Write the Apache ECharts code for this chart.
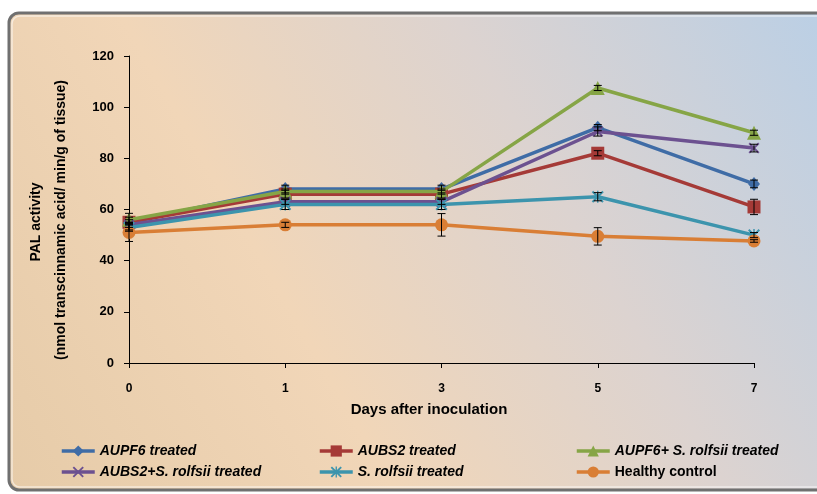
<!DOCTYPE html>
<html>
<head>
<meta charset="utf-8">
<script src="https://cdn.jsdelivr.net/npm/echarts@6/dist/echarts.min.js"></script>
<style>html,body{margin:0;padding:0;background:#fff;}#c{width:817px;height:494px;}</style>
</head>
<body>
<div id="c"></div>
<script>
const days = ['0', '1', '3', '5', '7'];
const yTicks = [0, 20, 40, 60, 80, 100, 120];

const seriesNames = ['AUPF6 treated', 'AUBS2 treated', 'AUPF6+ S. rolfsii treated',
  'AUBS2+S. rolfsii treated', 'S. rolfsii treated', 'Healthy control'];

const aupf6 = [55, 68, 68, 92, 70];
const aubs2 = [55, 66, 66, 82, 61];
const aupf6Sr = [56, 67, 67, 107.5, 90];
const aubs2Sr = [54, 63, 63, 90.5, 84];
const sRolfsii = [53, 62, 62, 65, 50];
const healthy = [51, 54, 54, 49.5, 47.7];

const errAupf6 = [1, 1.5, 1.5, 1.2, 1.5];
const errAubs2 = [3.5, 1.5, 1.5, 1, 3];
const errAupf6Sr = [1, 1, 1, 1, 1];
const errAubs2Sr = [1, 1, 1, 1.8, 1.5];
const errSRolfsii = [1, 2, 2, 1.6, 1];
const errHealthy = [3.5, 1, 4.4, 3.4, 0.5];

const colors = ['#3F6CA6', '#A53A37', '#86A546', '#6C5190', '#3C94AD', '#D97E35'];

const allValues = [aupf6, aubs2, aupf6Sr, aubs2Sr, sRolfsii, healthy];
const allErrs = [errAupf6, errAubs2, errAupf6Sr, errAubs2Sr, errSRolfsii, errHealthy];

const xPath = 'path://M0,1.2L1.2,0L5,3.8L8.8,0L10,1.2L6.2,5L10,8.8L8.8,10L5,6.2L1.2,10L0,8.8L3.8,5Z';
const starPath = 'path://M0,1.2L1.2,0L5,3.8L8.8,0L10,1.2L6.2,5L10,8.8L8.8,10L5,6.2L1.2,10L0,8.8L3.8,5Z M4.4,0L5.6,0L5.6,10L4.4,10Z';
const symbols = ['diamond', 'rect', 'triangle', xPath, starPath, 'circle'];
const symSizes = [[12, 14], 13, 14, 11, 12, 13];

const errData = [];
allValues.forEach((vals, s) => {
  vals.forEach((v, i) => errData.push([i, v, allErrs[s][i]]));
});

const chart = echarts.init(document.getElementById('c'));

const lineSeries = seriesNames.map((n, s) => ({
  name: n,
  type: 'line',
  data: allValues[s],
  symbol: symbols[s],
  symbolSize: symSizes[s],
  lineStyle: { width: 3.5, color: colors[s] },
  itemStyle: { color: colors[s] },
  z: 3 + s * 0.1,
  animation: false
}));

const fontMain = 'Liberation Sans, Arial, sans-serif';
const legendFont = { fontFamily: fontMain, fontSize: 14, fontWeight: 'bold', fontStyle: 'italic', color: '#000' };

function leg(left, names) {
  return {
    orient: 'vertical', left: left, top: 439, itemGap: 7,
    itemWidth: 33, itemHeight: 14,
    lineStyle: { width: 3.5 },
    data: names.map(n => n === 'Healthy control'
      ? { name: n, textStyle: Object.assign({}, legendFont, { fontStyle: 'normal' }) }
      : { name: n }),
    textStyle: legendFont
  };
}

chart.setOption({
  animation: false,
  graphic: [
    {
      type: 'rect', z: -10, silent: true,
      shape: { x: 9, y: 13, width: 830, height: 477, r: 10 },
      style: {
        fill: new echarts.graphic.LinearGradient(0, 1, 1, 0, [
          { offset: 0, color: '#e6cba8' },
          { offset: 0.35, color: '#f1d6b8' },
          { offset: 0.65, color: '#dcd3d0' },
          { offset: 1, color: '#b9cfe6' }
        ]),
        stroke: '#707070', lineWidth: 3
      }
    },
    {
      type: 'rect', z: -9, silent: true,
      shape: { x: 12, y: 16, width: 824, height: 471, r: 8 },
      style: { fill: 'none', stroke: 'rgba(255,255,255,0.55)', lineWidth: 1.5 }
    },
    {
      type: 'text', silent: true, x: 36, y: 222, rotation: Math.PI / 2,
      style: { text: 'PAL activity', fill: '#000', font: 'bold 14px ' + fontMain, align: 'center', verticalAlign: 'middle' }
    },
    {
      type: 'text', silent: true, x: 61, y: 220, rotation: Math.PI / 2,
      style: { text: '(nmol transcinnamic acid/ min/g of tissue)', fill: '#000', font: 'bold 14px ' + fontMain, align: 'center', verticalAlign: 'middle' }
    },
    {
      type: 'text', silent: true, x: 429, y: 410,
      style: { text: 'Days after inoculation', fill: '#000', font: 'bold 15px ' + fontMain, align: 'center', verticalAlign: 'middle' }
    }
  ],
  grid: { left: 129, right: 63, top: 56, bottom: 131, containLabel: false },
  xAxis: {
    type: 'category', data: days, boundaryGap: false,
    axisLine: { lineStyle: { color: '#000', width: 1 } },
    axisTick: { alignWithLabel: true, length: 5, lineStyle: { color: '#000' } },
    axisLabel: { color: '#000', fontFamily: fontMain, fontWeight: 'bold', fontSize: 12, margin: 20 },
    splitLine: { show: false }
  },
  yAxis: {
    type: 'value', min: yTicks[0], max: yTicks[yTicks.length - 1], interval: 20,
    axisLine: { show: true, lineStyle: { color: '#000', width: 1 } },
    axisTick: { show: true, length: 5, lineStyle: { color: '#000' } },
    axisLabel: { color: '#000', fontFamily: fontMain, fontWeight: 'bold', fontSize: 13, margin: 15 },
    splitLine: { show: false }
  },
  legend: [
    leg(55, [seriesNames[0], seriesNames[3]]),
    leg(313, [seriesNames[1], seriesNames[4]]),
    leg(570, [seriesNames[2], seriesNames[5]])
  ],
  series: lineSeries.concat([{
    type: 'custom',
    name: 'err',
    data: errData,
    z: 4,
    silent: true,
    encode: { x: 0, y: 1 },
    renderItem: function (params, api) {
      const x = api.value(0), v = api.value(1), e = api.value(2);
      const hi = api.coord([x, v + e]);
      const lo = api.coord([x, v - e]);
      const w = 4;
      const st = { stroke: '#000', lineWidth: 1 };
      return {
        type: 'group',
        children: [
          { type: 'line', shape: { x1: hi[0], y1: hi[1], x2: lo[0], y2: lo[1] }, style: st },
          { type: 'line', shape: { x1: hi[0] - w, y1: hi[1], x2: hi[0] + w, y2: hi[1] }, style: st },
          { type: 'line', shape: { x1: lo[0] - w, y1: lo[1], x2: lo[0] + w, y2: lo[1] }, style: st }
        ]
      };
    }
  }])
});
</script>
</body>
</html>
